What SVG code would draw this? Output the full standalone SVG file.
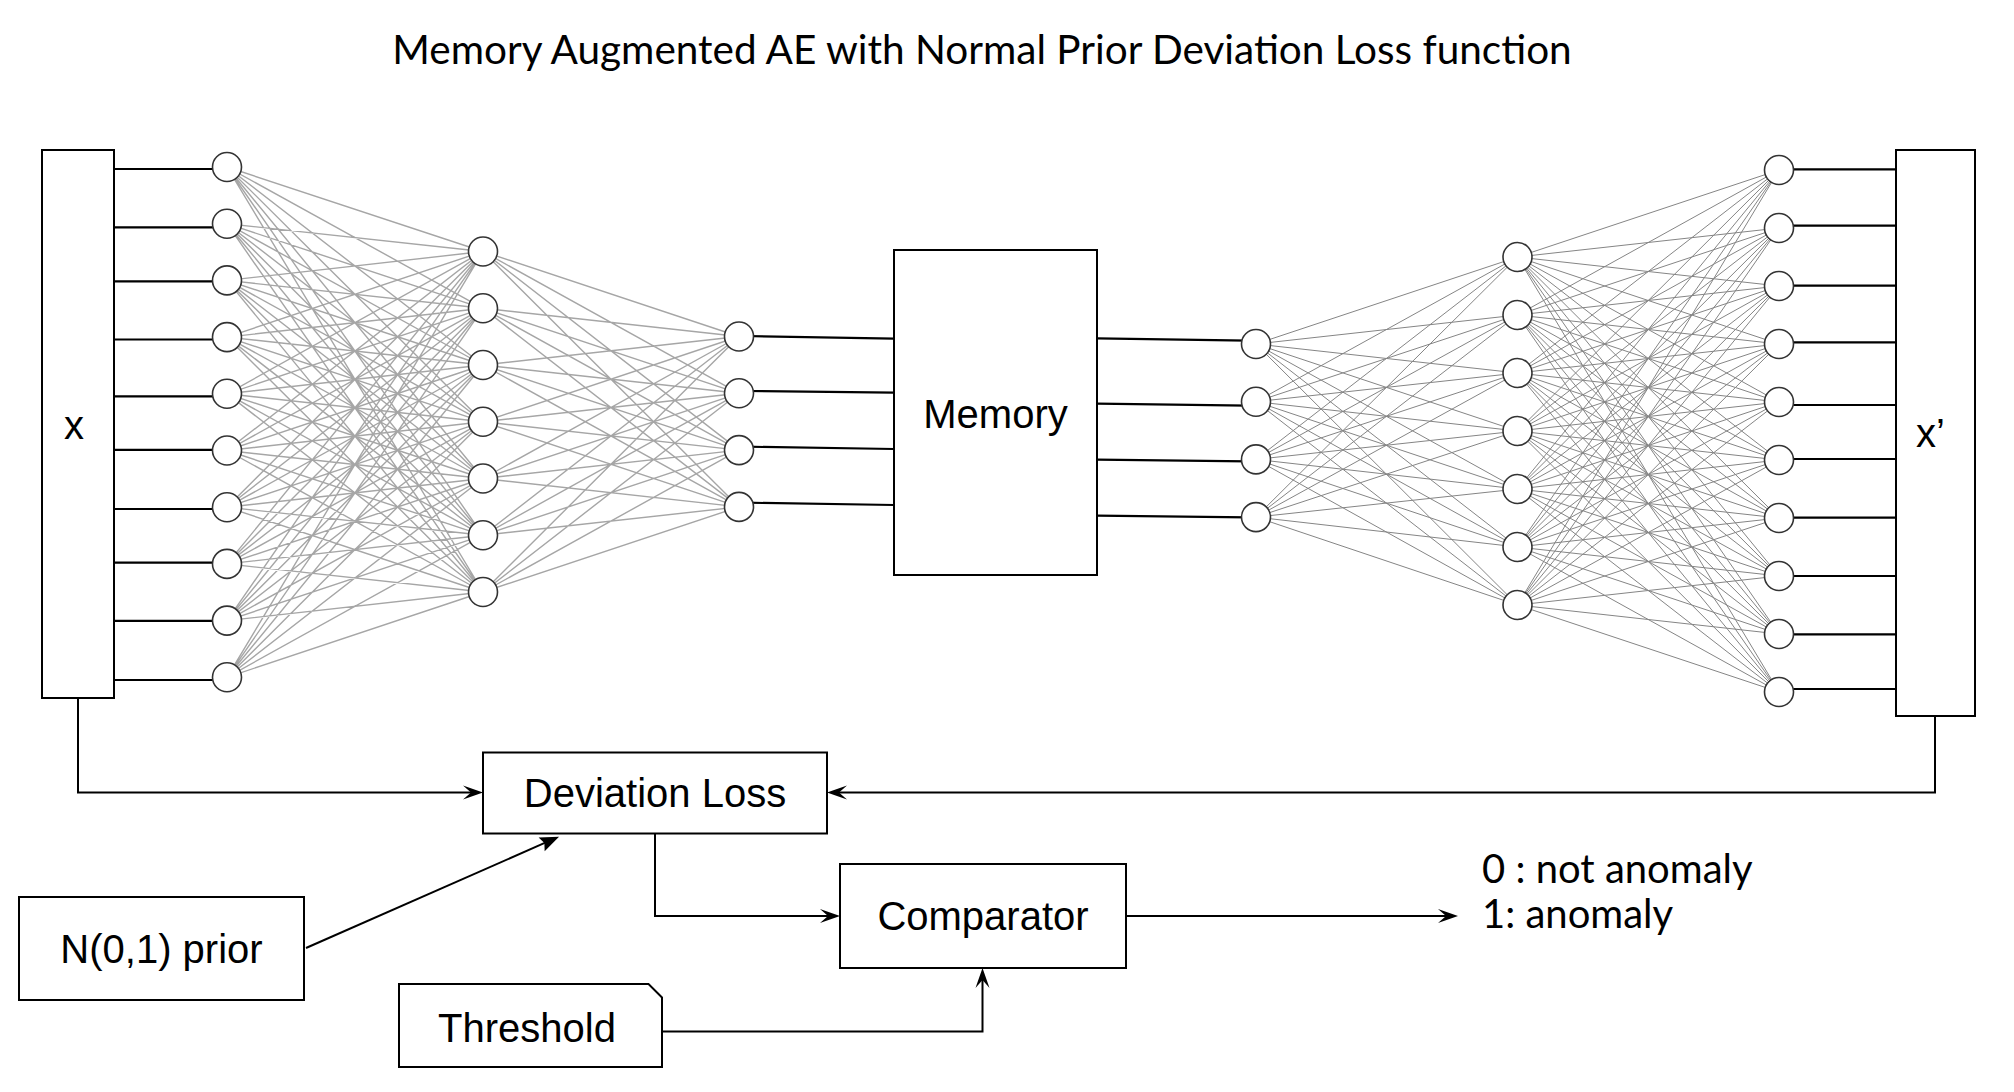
<svg xmlns="http://www.w3.org/2000/svg" width="2014" height="1092" viewBox="0 0 2014 1092">
<style>
.box{fill:#fff;stroke:#000;stroke-width:2}
.nd{fill:#fff;stroke:#333;stroke-width:1.6}
.meshL{fill:none;stroke:#a6a6a6;stroke-width:1.4}
.meshR{fill:none;stroke:#858585;stroke-width:1}
.wire{fill:none;stroke:#000;stroke-width:2.2}
.conn{fill:none;stroke:#000;stroke-width:2}
.ar{font-family:"Liberation Sans",Arial,sans-serif;font-size:40px;fill:#000;text-anchor:middle}
.lt{font-family:Lato,"Noto Sans",sans-serif;font-size:40px;fill:#000}
</style>
<defs>
<marker id="arr" markerUnits="userSpaceOnUse" markerWidth="24" markerHeight="18" viewBox="-22 -9 24 18" refX="-12" refY="0" orient="auto"><path d="M0,0 L-20,-7 L-12,0 L-20,7 Z" fill="#000"/></marker>
<marker id="blk" markerUnits="userSpaceOnUse" markerWidth="24" markerHeight="20" viewBox="-22 -10 24 20" refX="-15" refY="0" orient="auto"><path d="M0,0 L-19,-7.5 L-16,0 L-19,7.5 Z" fill="#000"/></marker>
</defs>
<rect width="2014" height="1092" fill="#fff"/>
<text id="title" x="982" y="64" class="lt" style="font-size:40.5px" text-anchor="middle">Memory Augmented AE with Normal Prior Deviation Loss function</text>
<g id="connectors">
<path class="meshL" d="M227 167L483 251.5M227 167L483 308.3M227 167L483 365M227 167L483 421.8M227 167L483 478.5M227 167L483 535.3M227 167L483 592
M227 223.7L483 251.5M227 223.7L483 308.3M227 223.7L483 365M227 223.7L483 421.8M227 223.7L483 478.5M227 223.7L483 535.3M227 223.7L483 592
M227 280.4L483 251.5M227 280.4L483 308.3M227 280.4L483 365M227 280.4L483 421.8M227 280.4L483 478.5M227 280.4L483 535.3M227 280.4L483 592
M227 337.1L483 251.5M227 337.1L483 308.3M227 337.1L483 365M227 337.1L483 421.8M227 337.1L483 478.5M227 337.1L483 535.3M227 337.1L483 592
M227 393.8L483 251.5M227 393.8L483 308.3M227 393.8L483 365M227 393.8L483 421.8M227 393.8L483 478.5M227 393.8L483 535.3M227 393.8L483 592
M227 450.5L483 251.5M227 450.5L483 308.3M227 450.5L483 365M227 450.5L483 421.8M227 450.5L483 478.5M227 450.5L483 535.3M227 450.5L483 592
M227 507.2L483 251.5M227 507.2L483 308.3M227 507.2L483 365M227 507.2L483 421.8M227 507.2L483 478.5M227 507.2L483 535.3M227 507.2L483 592
M227 563.9L483 251.5M227 563.9L483 308.3M227 563.9L483 365M227 563.9L483 421.8M227 563.9L483 478.5M227 563.9L483 535.3M227 563.9L483 592
M227 620.6L483 251.5M227 620.6L483 308.3M227 620.6L483 365M227 620.6L483 421.8M227 620.6L483 478.5M227 620.6L483 535.3M227 620.6L483 592
M227 677.3L483 251.5M227 677.3L483 308.3M227 677.3L483 365M227 677.3L483 421.8M227 677.3L483 478.5M227 677.3L483 535.3M227 677.3L483 592"/>
<path class="meshL" d="M483 251.5L739 336.5M483 251.5L739 393.3M483 251.5L739 450.1M483 251.5L739 506.9
M483 308.3L739 336.5M483 308.3L739 393.3M483 308.3L739 450.1M483 308.3L739 506.9
M483 365L739 336.5M483 365L739 393.3M483 365L739 450.1M483 365L739 506.9
M483 421.8L739 336.5M483 421.8L739 393.3M483 421.8L739 450.1M483 421.8L739 506.9
M483 478.5L739 336.5M483 478.5L739 393.3M483 478.5L739 450.1M483 478.5L739 506.9
M483 535.3L739 336.5M483 535.3L739 393.3M483 535.3L739 450.1M483 535.3L739 506.9
M483 592L739 336.5M483 592L739 393.3M483 592L739 450.1M483 592L739 506.9"/>
<path class="meshR" d="M1256 344L1517.5 257M1256 344L1517.5 315M1256 344L1517.5 373M1256 344L1517.5 431M1256 344L1517.5 489M1256 344L1517.5 547M1256 344L1517.5 605
M1256 401.7L1517.5 257M1256 401.7L1517.5 315M1256 401.7L1517.5 373M1256 401.7L1517.5 431M1256 401.7L1517.5 489M1256 401.7L1517.5 547M1256 401.7L1517.5 605
M1256 459.4L1517.5 257M1256 459.4L1517.5 315M1256 459.4L1517.5 373M1256 459.4L1517.5 431M1256 459.4L1517.5 489M1256 459.4L1517.5 547M1256 459.4L1517.5 605
M1256 517.1L1517.5 257M1256 517.1L1517.5 315M1256 517.1L1517.5 373M1256 517.1L1517.5 431M1256 517.1L1517.5 489M1256 517.1L1517.5 547M1256 517.1L1517.5 605"/>
<path class="meshR" d="M1517.5 257L1779 170M1517.5 257L1779 228M1517.5 257L1779 286M1517.5 257L1779 344M1517.5 257L1779 402M1517.5 257L1779 460M1517.5 257L1779 518M1517.5 257L1779 576M1517.5 257L1779 634M1517.5 257L1779 692
M1517.5 315L1779 170M1517.5 315L1779 228M1517.5 315L1779 286M1517.5 315L1779 344M1517.5 315L1779 402M1517.5 315L1779 460M1517.5 315L1779 518M1517.5 315L1779 576M1517.5 315L1779 634M1517.5 315L1779 692
M1517.5 373L1779 170M1517.5 373L1779 228M1517.5 373L1779 286M1517.5 373L1779 344M1517.5 373L1779 402M1517.5 373L1779 460M1517.5 373L1779 518M1517.5 373L1779 576M1517.5 373L1779 634M1517.5 373L1779 692
M1517.5 431L1779 170M1517.5 431L1779 228M1517.5 431L1779 286M1517.5 431L1779 344M1517.5 431L1779 402M1517.5 431L1779 460M1517.5 431L1779 518M1517.5 431L1779 576M1517.5 431L1779 634M1517.5 431L1779 692
M1517.5 489L1779 170M1517.5 489L1779 228M1517.5 489L1779 286M1517.5 489L1779 344M1517.5 489L1779 402M1517.5 489L1779 460M1517.5 489L1779 518M1517.5 489L1779 576M1517.5 489L1779 634M1517.5 489L1779 692
M1517.5 547L1779 170M1517.5 547L1779 228M1517.5 547L1779 286M1517.5 547L1779 344M1517.5 547L1779 402M1517.5 547L1779 460M1517.5 547L1779 518M1517.5 547L1779 576M1517.5 547L1779 634M1517.5 547L1779 692
M1517.5 605L1779 170M1517.5 605L1779 228M1517.5 605L1779 286M1517.5 605L1779 344M1517.5 605L1779 402M1517.5 605L1779 460M1517.5 605L1779 518M1517.5 605L1779 576M1517.5 605L1779 634M1517.5 605L1779 692"/>
<path class="wire" d="M114 169H220M114 227.4H220M114 281.3H220M114 339.5H220M114 396.3H220M114 449.9H220M114 509H220M114 562.7H220M114 620.9H220M114 680H220"/>
<path class="wire" d="M745 336L894 338.7M745 391L894 392.7M745 446.7L894 449M745 502.7L894 505"/>
<path class="wire" d="M1097 338.3L1248 340.7M1097 403.7L1248 405.7M1097 459.7L1248 461.3M1097 515.7L1248 517.3"/>
<path class="wire" d="M1786 169.3H1896M1786 225.7H1896M1786 285.7H1896M1786 342.3H1896M1786 405H1896M1786 459H1896M1786 517.7H1896M1786 576H1896M1786 634.3H1896M1786 689H1896"/>
<path class="conn" marker-end="url(#arr)" d="M78 698V792.5H471"/>
<path class="conn" marker-end="url(#arr)" d="M1935 716V792.5H839"/>
<path class="conn" marker-end="url(#arr)" d="M655 833V916H828"/>
<path class="conn" marker-end="url(#arr)" d="M662 1031.5H982.5V980"/>
<path class="conn" marker-end="url(#arr)" d="M1126 916H1446"/>
<path class="conn" marker-end="url(#blk)" d="M306 948L545.3 842.7"/>
</g>
<g id="x-input"><rect class="box" x="42" y="150" width="72" height="548"/><text class="ar" x="74" y="439">x</text></g>
<g id="x-output"><rect class="box" x="1896" y="150" width="79" height="566"/><text class="ar" x="1916" y="447" style="text-anchor:start">x’</text></g>
<g id="memory"><rect class="box" x="894" y="250" width="203" height="325"/><text class="ar" x="995.5" y="428">Memory</text></g>
<g id="deviation-loss"><rect class="box" x="483" y="752.5" width="344" height="81"/><text class="ar" x="655" y="807">Deviation Loss</text></g>
<g id="comparator"><rect class="box" x="840" y="864" width="286" height="104"/><text class="ar" x="983" y="930">Comparator</text></g>
<g id="prior"><rect class="box" x="19" y="897" width="285" height="103"/><text class="ar" x="161.5" y="963">N(0,1) prior</text></g>
<g id="threshold"><path class="box" d="M399 984H648.5L662 997.5V1067H399Z"/><text class="ar" x="527" y="1042">Threshold</text></g>
<g id="output"><text class="lt" x="1482" y="883">0 : not anomaly</text><text class="lt" x="1482" y="927.5">1: anomaly</text></g>
<g id="n1-1"><circle class="nd" cx="227" cy="167" r="14.5"/></g>
<g id="n1-2"><circle class="nd" cx="227" cy="223.7" r="14.5"/></g>
<g id="n1-3"><circle class="nd" cx="227" cy="280.4" r="14.5"/></g>
<g id="n1-4"><circle class="nd" cx="227" cy="337.1" r="14.5"/></g>
<g id="n1-5"><circle class="nd" cx="227" cy="393.8" r="14.5"/></g>
<g id="n1-6"><circle class="nd" cx="227" cy="450.5" r="14.5"/></g>
<g id="n1-7"><circle class="nd" cx="227" cy="507.2" r="14.5"/></g>
<g id="n1-8"><circle class="nd" cx="227" cy="563.9" r="14.5"/></g>
<g id="n1-9"><circle class="nd" cx="227" cy="620.6" r="14.5"/></g>
<g id="n1-10"><circle class="nd" cx="227" cy="677.3" r="14.5"/></g>
<g id="n2-1"><circle class="nd" cx="483" cy="251.5" r="14.5"/></g>
<g id="n2-2"><circle class="nd" cx="483" cy="308.3" r="14.5"/></g>
<g id="n2-3"><circle class="nd" cx="483" cy="365" r="14.5"/></g>
<g id="n2-4"><circle class="nd" cx="483" cy="421.8" r="14.5"/></g>
<g id="n2-5"><circle class="nd" cx="483" cy="478.5" r="14.5"/></g>
<g id="n2-6"><circle class="nd" cx="483" cy="535.3" r="14.5"/></g>
<g id="n2-7"><circle class="nd" cx="483" cy="592" r="14.5"/></g>
<g id="n3-1"><circle class="nd" cx="739" cy="336.5" r="14.5"/></g>
<g id="n3-2"><circle class="nd" cx="739" cy="393.3" r="14.5"/></g>
<g id="n3-3"><circle class="nd" cx="739" cy="450.1" r="14.5"/></g>
<g id="n3-4"><circle class="nd" cx="739" cy="506.9" r="14.5"/></g>
<g id="n4-1"><circle class="nd" cx="1256" cy="344" r="14.5"/></g>
<g id="n4-2"><circle class="nd" cx="1256" cy="401.7" r="14.5"/></g>
<g id="n4-3"><circle class="nd" cx="1256" cy="459.4" r="14.5"/></g>
<g id="n4-4"><circle class="nd" cx="1256" cy="517.1" r="14.5"/></g>
<g id="n5-1"><circle class="nd" cx="1517.5" cy="257" r="14.5"/></g>
<g id="n5-2"><circle class="nd" cx="1517.5" cy="315" r="14.5"/></g>
<g id="n5-3"><circle class="nd" cx="1517.5" cy="373" r="14.5"/></g>
<g id="n5-4"><circle class="nd" cx="1517.5" cy="431" r="14.5"/></g>
<g id="n5-5"><circle class="nd" cx="1517.5" cy="489" r="14.5"/></g>
<g id="n5-6"><circle class="nd" cx="1517.5" cy="547" r="14.5"/></g>
<g id="n5-7"><circle class="nd" cx="1517.5" cy="605" r="14.5"/></g>
<g id="n6-1"><circle class="nd" cx="1779" cy="170" r="14.5"/></g>
<g id="n6-2"><circle class="nd" cx="1779" cy="228" r="14.5"/></g>
<g id="n6-3"><circle class="nd" cx="1779" cy="286" r="14.5"/></g>
<g id="n6-4"><circle class="nd" cx="1779" cy="344" r="14.5"/></g>
<g id="n6-5"><circle class="nd" cx="1779" cy="402" r="14.5"/></g>
<g id="n6-6"><circle class="nd" cx="1779" cy="460" r="14.5"/></g>
<g id="n6-7"><circle class="nd" cx="1779" cy="518" r="14.5"/></g>
<g id="n6-8"><circle class="nd" cx="1779" cy="576" r="14.5"/></g>
<g id="n6-9"><circle class="nd" cx="1779" cy="634" r="14.5"/></g>
<g id="n6-10"><circle class="nd" cx="1779" cy="692" r="14.5"/></g>
</svg>
